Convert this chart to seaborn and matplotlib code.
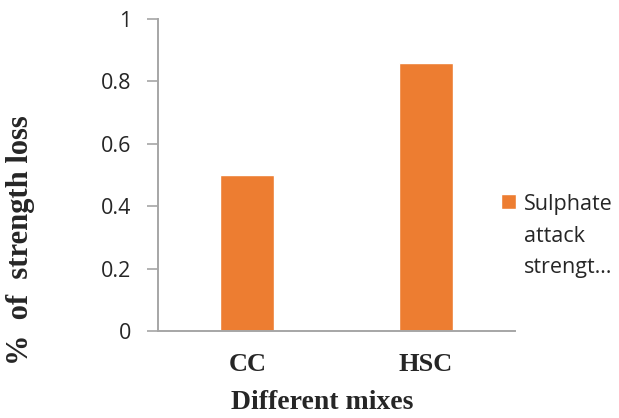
import numpy as np
import pandas as pd
from matplotlib import pyplot as plt
from matplotlib.ticker import FuncFormatter
from matplotlib.patches import Rectangle
from matplotlib.container import BarContainer
from matplotlib.legend_handler import HandlerPatch
import seaborn as sns

# Chart data
mixes = ["CC", "HSC"]
strength_loss = [0.50, 0.86]
series_label = "Sulphate\nattack\nstrengt\u2026"
y_ticks = [0, 0.2, 0.4, 0.6, 0.8, 1.0]

bar_color = "#ED7D31"
axis_gray = "#A6A6A6"

sns.set_style("white")
plt.rcParams["font.family"] = ["Open Sans", "DejaVu Sans"]

df = pd.DataFrame({"mix": mixes, "loss": strength_loss})

fig = plt.figure(figsize=(6.19, 4.18), dpi=100)
ax = fig.add_axes([158 / 619, 87 / 418, 357 / 619, 312 / 418])

sns.barplot(data=df, x="mix", y="loss", color=bar_color, saturation=1,
            width=0.30, label=series_label, ax=ax)

ax.set_ylim(0, 1)
ax.set_yticks(y_ticks)
ax.yaxis.set_major_formatter(FuncFormatter(lambda v, p: "%g" % v))
ax.tick_params(axis="y", length=8, width=1.2, color=axis_gray, pad=11,
               labelsize=15.5, left=True, direction="out")
ax.tick_params(axis="x", length=0, pad=16)
for lab in ax.get_xticklabels():
    lab.set_fontfamily("Liberation Serif")
    lab.set_fontweight("bold")
    lab.set_fontsize(19)

# Spines
for side in ["top", "right"]:
    ax.spines[side].set_visible(False)
for side in ["left", "bottom"]:
    ax.spines[side].set_color(axis_gray)
    ax.spines[side].set_linewidth(1.4)

ax.set_xlabel("Different mixes", fontfamily="Liberation Serif",
              fontweight="bold", fontsize=20)
ax.xaxis.set_label_coords(0.46, -0.19)
ax.set_ylabel("%  of  strength loss", fontfamily="Liberation Serif",
              fontweight="bold", fontsize=22)
ax.yaxis.set_label_coords(-0.345, 0.29)


# legend square sits next to the first line of the wrapped label
def top_square(legend, orig_handle, xdescent, ydescent, width, height, fontsize):
    s = 0.7 * fontsize
    return Rectangle((-xdescent, -ydescent + height - s + 0.65 * fontsize), s, s)


def copy_style(legend_handle, orig_handle):
    legend_handle.update_from(orig_handle[0])


leg = ax.legend(loc="upper left", bbox_to_anchor=(0.961, 0.44), frameon=False,
                handlelength=0.7, handleheight=4.0, handletextpad=0.37,
                fontsize=15.5, borderaxespad=0, borderpad=0,
                handler_map={BarContainer: HandlerPatch(patch_func=top_square,
                                                        update_func=copy_style)})
for t in leg.get_texts():
    t.set_linespacing(1.68)

fig.savefig("out.png", dpi=100)
